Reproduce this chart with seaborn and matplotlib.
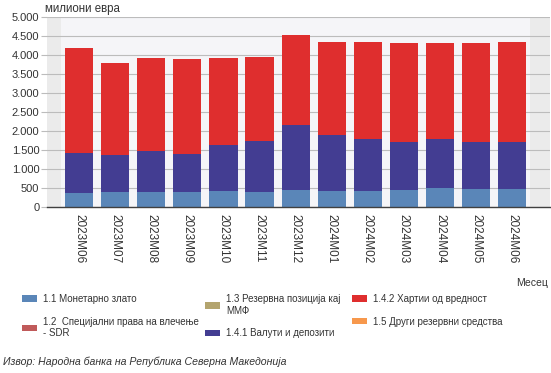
import matplotlib
matplotlib.use("Agg")
import matplotlib.pyplot as plt
import matplotlib.ticker as mticker
from matplotlib.patches import Patch
import pandas as pd
import seaborn as sns

# податоци (милиони евра), прочитани од графиконот
months = ["2023M06", "2023M07", "2023M08", "2023M09", "2023M10", "2023M11", "2023M12",
          "2024M01", "2024M02", "2024M03", "2024M04", "2024M05", "2024M06"]
gold = [376, 402, 402, 402, 429, 402, 437, 421, 429, 455, 500, 473, 473]
sdr = [3, 3, 3, 3, 3, 3, 3, 3, 3, 3, 3, 3, 3]
imf = [0.03] * 13
currency = [1050, 963, 1069, 998, 1200, 1332, 1718, 1471, 1357, 1244, 1286, 1234, 1234]
securities = [2756, 2422, 2451, 2497, 2298, 2218, 2379, 2447, 2553, 2606, 2537, 2598, 2632]
other = [0.5] * 13

labels = ["1.1 Монетарно злато", "1.2  Специјални права на влечење\n- SDR",
          "1.3 Резервна позиција кај\nММФ", "1.4.1 Валути и депозити",
          "1.4.2 Хартии од вредност", "1.5 Други резервни средства"]
colors = ["#5a86b8", "#c05a5a", "#b3a46e", "#433d92", "#df2e2e", "#f7984c"]
YMAX = 5000

sns.set_style("white")
plt.rcParams["font.family"] = ["Liberation Sans", "DejaVu Sans"]

df = pd.DataFrame({"month": months, "gold": gold, "sdr": sdr, "imf": imf,
                   "currency": currency, "securities": securities, "other": other})
parts = ["gold", "sdr", "imf", "currency", "securities", "other"]
cum = df[parts].cumsum(axis=1)

fig = plt.figure(figsize=(5.51, 3.73), dpi=100)
ax = fig.add_axes([47 / 551, 1 - 207 / 373, 503 / 551, 190 / 373])
ax.set_facecolor("#ebebeb")

# светли ленти зад секоја колона
sns.barplot(x=df["month"], y=[YMAX] * len(months), color="#f4f4f8", width=1.0,
            linewidth=0, ax=ax, zorder=0.2)

# натрупани колони: од највисокиот кумулатив кон најнискиот
for part, col in reversed(list(zip(parts, colors))):
    sns.barplot(x=df["month"], y=cum[part], color=col, width=0.78,
                linewidth=0, saturation=1, ax=ax, zorder=2)

ax.set_xlim(-0.89, 13.05)
ax.set_ylim(0, YMAX)
ax.set_yticks(range(0, YMAX + 1, 500))
ax.yaxis.set_major_formatter(mticker.FuncFormatter(lambda v, _: f"{v:,.0f}".replace(",", ".")))
ax.grid(axis="y", color="#bcbcbc", lw=0.8, zorder=0.5)
ax.set_axisbelow(True)
for s in ["left", "right", "top"]:
    ax.spines[s].set_visible(False)
ax.spines["bottom"].set_color("#404040")
ax.spines["bottom"].set_linewidth(1)
ax.spines["bottom"].set_zorder(3)
ax.tick_params(axis="y", length=4, width=0.8, color="#bcbcbc", pad=1.5,
               labelsize=8, labelcolor="#333333", left=True)
ax.tick_params(axis="x", length=0, pad=5, labelsize=8.5, labelcolor="#333333")
plt.setp(ax.get_xticklabels(), rotation=-90, va="top", ha="center")
ax.set_xlabel("")
ax.set_ylabel("")

fig.text(45 / 551, 1 - 9 / 373, "милиони евра", ha="left", va="center",
         fontsize=8.3, color="#333333")
fig.text(548 / 551, 1 - 283 / 373, "Месец", ha="right", va="center",
         fontsize=7.5, color="#333333")

# легенда во три колони, секоја посебно (како во оригиналот)
handles = [Patch(facecolor=c, edgecolor="none") for c in colors]
for i, x0 in enumerate([22, 205, 352]):
    fig.legend(handles[2 * i:2 * i + 2], labels[2 * i:2 * i + 2], loc="upper left",
               bbox_to_anchor=(x0 / 551, 1 - 294 / 373), frameon=False,
               fontsize=7, borderpad=0, borderaxespad=0, handlelength=1.55,
               handleheight=0.65, handletextpad=0.6, labelspacing=1.3,
               labelcolor="#333333")

fig.text(3 / 551, 1 - 362 / 373, "Извор: Народна банка на Република Северна Македонија",
         ha="left", va="center", fontsize=7.6, style="italic", color="#333333")

fig.savefig("out.png", dpi=100)
